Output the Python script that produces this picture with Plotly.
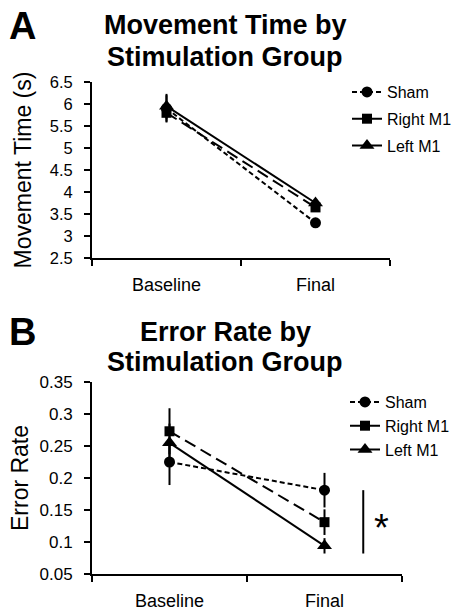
import plotly.graph_objects as go

categories = ["Baseline", "Final"]
groups = ["Sham", "Right M1", "Left M1"]

# Panel A: Movement time (s)
mt_sham = [5.90, 3.30]
mt_right = [5.80, 3.65]
mt_left = [5.95, 3.75]
mt_sham_err = [0.30, 0.06]
mt_right_err = [0.22, 0.08]
mt_left_err = [0.28, 0.08]

# Panel B: Error rate
er_sham = [0.225, 0.181]
er_right = [0.273, 0.131]
er_left = [0.255, 0.094]
er_sham_err = [0.036, 0.027]
er_right_err = [0.036, 0.020]
er_left_err = [0.030, 0.012]

mt_ticks = [2.5, 3, 3.5, 4, 4.5, 5, 5.5, 6, 6.5]
er_ticks = [0.05, 0.1, 0.15, 0.2, 0.25, 0.3, 0.35]

FONT = "Liberation Sans, Arial, sans-serif"
W, H = 452, 610

styles = {
    "Sham": dict(dash="5px,3px", symbol="circle", size=11),
    "Right M1": dict(dash="12px,6px", symbol="square", size=10),
    "Left M1": dict(dash="solid", symbol="triangle-up", size=13),
}

fig = go.Figure()

def add_panel(values, errs, xa, ya, legend, tag):
    for name, v, e in zip(groups, values, errs):
        st = styles[name]
        fig.add_trace(go.Scatter(
            x=categories, y=v, name=name, mode="lines+markers",
            xaxis=xa, yaxis=ya, legend=legend, legendgroup=tag + name,
            line=dict(color="black", width=2, dash=st["dash"]),
            marker=dict(color="black", symbol=st["symbol"], size=st["size"]),
            error_y=dict(type="data", array=e, visible=True, color="black",
                         thickness=2, width=0),
        ))

add_panel([mt_sham, mt_right, mt_left], [mt_sham_err, mt_right_err, mt_left_err],
          "x", "y", "legend", "A")
add_panel([er_sham, er_right, er_left], [er_sham_err, er_right_err, er_left_err],
          "x2", "y2", "legend2", "B")

def px_x(p):
    return p / W

def px_y(p):
    return 1 - p / H

axis_common = dict(showline=True, linecolor="black", linewidth=2, showgrid=False,
                   zeroline=False, ticks="outside", ticklen=6, tickwidth=2,
                   tickcolor="black", fixedrange=True, automargin=False)

xcommon = dict(axis_common, type="category", range=[-0.5, 1.5], tickson="boundaries",
               tickfont=dict(family=FONT, size=18, color="black"), ticklabelstandoff=9)

fig.update_layout(
    width=W, height=H,
    margin=dict(l=0, r=0, t=0, b=0, autoexpand=False),
    paper_bgcolor="white", plot_bgcolor="white",
    font=dict(family=FONT, color="black"),
    xaxis=dict(xcommon, domain=[px_x(92), px_x(390)], anchor="y"),
    yaxis=dict(axis_common, domain=[px_y(258), px_y(82)], anchor="x",
               range=[2.5, 6.5], tickvals=mt_ticks,
               ticktext=[f"{t:g}" for t in mt_ticks],
               tickfont=dict(family=FONT, size=16.5, color="black"),
               ticklabelstandoff=8,
               title=dict(text="Movement Time (s)", font=dict(family=FONT, size=23),
                          standoff=12)),
    xaxis2=dict(xcommon, domain=[px_x(92), px_x(402)], anchor="y2"),
    yaxis2=dict(axis_common, domain=[px_y(574), px_y(382)], anchor="x2",
                range=[0.05, 0.35], tickvals=er_ticks,
                ticktext=[f"{t:g}" for t in er_ticks],
                tickfont=dict(family=FONT, size=17, color="black"),
                ticklabelstandoff=8,
                title=dict(text="Error Rate", font=dict(family=FONT, size=23),
                           standoff=4)),
    legend=dict(x=px_x(347), y=px_y(75), xanchor="left", yanchor="top",
                font=dict(family=FONT, size=16, color="black"),
                bgcolor="rgba(0,0,0,0)", itemwidth=30, tracegroupgap=3),
    legend2=dict(x=px_x(345), y=px_y(385), xanchor="left", yanchor="top",
                 font=dict(family=FONT, size=16, color="black"),
                 bgcolor="rgba(0,0,0,0)", itemwidth=30, tracegroupgap=0),
    showlegend=True,
)

annots = [
    dict(text="<b>A</b>", x=px_x(7), y=px_y(26), size=38),
    dict(text="<b>B</b>", x=px_x(7), y=px_y(332), size=38),
]
for a in annots:
    fig.add_annotation(text=a["text"], x=a["x"], y=a["y"], xref="paper", yref="paper",
                       xanchor="left", yanchor="middle", showarrow=False,
                       font=dict(family=FONT, size=a["size"], color="black"))

titles = [("<b>Movement Time by</b>", 25), ("<b>Stimulation Group</b>", 57),
          ("<b>Error Rate by</b>", 332), ("<b>Stimulation Group</b>", 362)]
for t, yp in titles:
    fig.add_annotation(text=t, x=px_x(225), y=px_y(yp), xref="paper", yref="paper",
                       xanchor="center", yanchor="middle", showarrow=False,
                       font=dict(family=FONT, size=27, color="black"))

# Significance bar between final Sham (top) and Left M1 (bottom) in panel B
sig_top = er_sham[1]
sig_bot = er_left[1] - er_left_err[1]
fig.add_shape(type="line", xref="x2", yref="y2", x0=1.25, x1=1.25,
              y0=sig_bot, y1=sig_top, line=dict(color="black", width=2))
fig.add_annotation(text="*", xref="x2", yref="y2", x=1.37,
                   y=(sig_top + sig_bot) / 2, showarrow=False, yshift=-6,
                   xanchor="center", yanchor="middle",
                   font=dict(family=FONT, size=38, color="black"))

fig.write_html("out.html", config={"displayModeBar": False},
               post_script="document.body.style.margin='0px';")
